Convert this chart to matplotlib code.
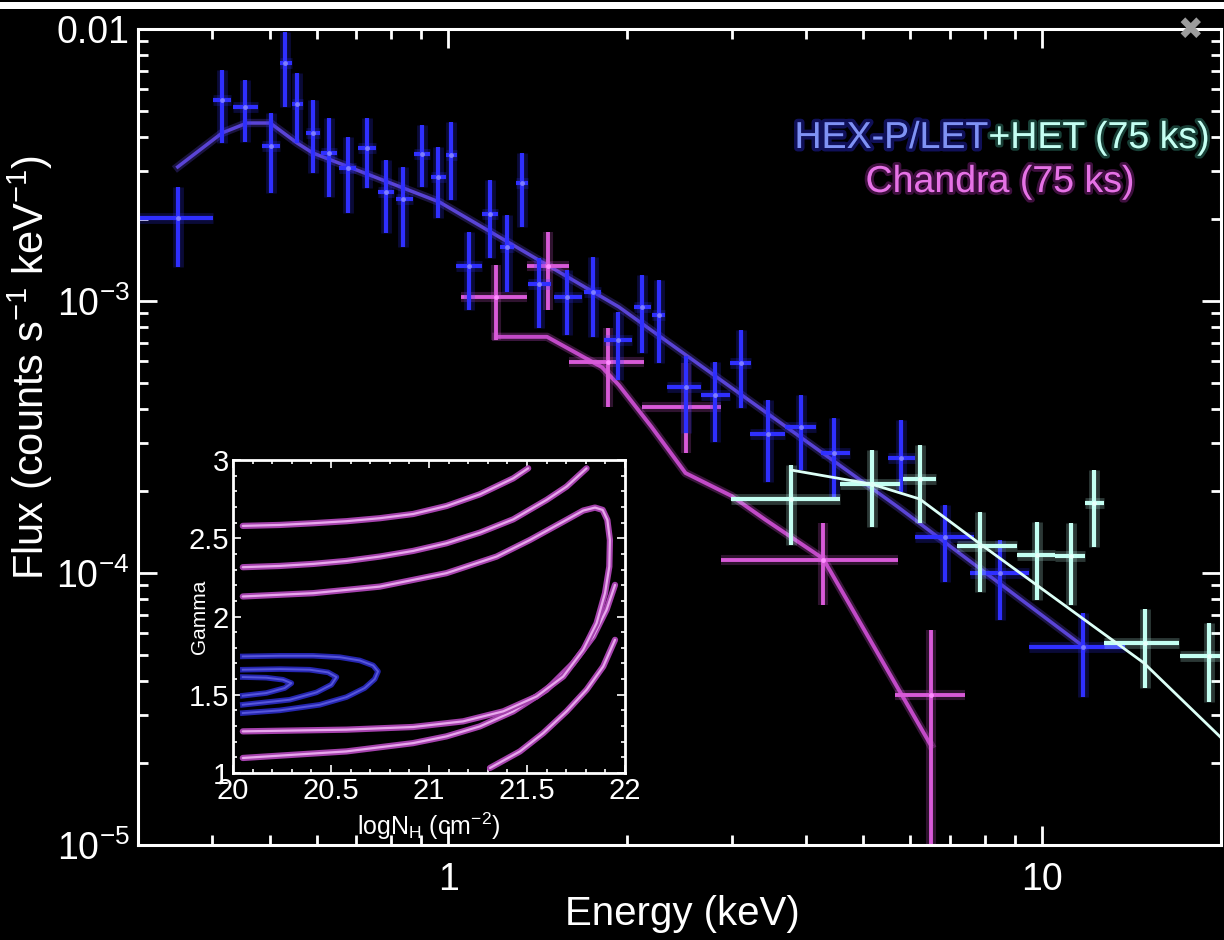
import numpy as np
import matplotlib
matplotlib.use("Agg")
import matplotlib.pyplot as plt
import matplotlib.patheffects as pe
from matplotlib.patches import Rectangle
from matplotlib.ticker import LogLocator, MultipleLocator, NullFormatter

plt.rcParams['font.family'] = ['Liberation Sans', 'DejaVu Sans']
plt.rcParams['mathtext.fontset'] = 'custom'
plt.rcParams['mathtext.rm'] = 'Liberation Sans'
plt.rcParams['mathtext.it'] = 'Liberation Sans:italic'
plt.rcParams['mathtext.bf'] = 'Liberation Sans:bold'

# ========== DATA ==========
# HEX-P / LET spectrum (blue): energy bin centre + edges (keV), flux + error range
let_e   = [0.351, 0.416, 0.455, 0.503, 0.531, 0.556, 0.591, 0.629, 0.677, 0.729, 0.784, 0.840,
           0.901, 0.962, 1.012, 1.084, 1.176, 1.256, 1.331, 1.421, 1.584, 1.751, 1.929, 2.116,
           2.259, 2.508, 2.817, 3.113, 3.456, 3.926, 4.461, 5.777, 6.847, 8.50, 11.72]
let_elo = [0.301, 0.402, 0.434, 0.486, 0.521, 0.545, 0.575, 0.610, 0.655, 0.705, 0.760, 0.815,
           0.875, 0.935, 0.990, 1.031, 1.140, 1.220, 1.300, 1.362, 1.506, 1.690, 1.827, 2.050,
           2.200, 2.331, 2.658, 2.985, 3.224, 3.691, 4.242, 5.495, 6.099, 7.572, 9.51]
let_ehi = [0.402, 0.431, 0.478, 0.521, 0.545, 0.570, 0.608, 0.650, 0.700, 0.755, 0.810, 0.870,
           0.930, 0.990, 1.035, 1.140, 1.210, 1.290, 1.360, 1.489, 1.678, 1.810, 2.036, 2.190,
           2.320, 2.658, 2.985, 3.236, 3.691, 4.161, 4.746, 6.099, 7.690, 9.51, 13.78]
let_f   = [2.02e-3, 5.48e-3, 5.17e-3, 3.72e-3, 7.50e-3, 5.30e-3, 4.15e-3, 3.50e-3, 3.08e-3,
           3.65e-3, 2.52e-3, 2.37e-3, 3.47e-3, 2.86e-3, 3.44e-3, 1.35e-3, 2.09e-3, 1.58e-3,
           2.72e-3, 1.15e-3, 1.03e-3, 1.08e-3, 7.19e-4, 9.51e-4, 8.89e-4, 4.83e-4, 4.51e-4,
           5.92e-4, 3.23e-4, 3.44e-4, 2.76e-4, 2.65e-4, 1.36e-4, 1.00e-4, 5.35e-5]
let_flo = [1.33e-3, 3.81e-3, 3.84e-3, 2.49e-3, 5.17e-3, 3.81e-3, 2.96e-3, 2.41e-3, 2.11e-3,
           2.60e-3, 1.78e-3, 1.58e-3, 2.62e-3, 2.02e-3, 2.35e-3, 9.27e-4, 1.44e-3, 1.08e-3,
           1.87e-3, 7.96e-4, 7.50e-4, 7.38e-4, 5.13e-4, 6.44e-4, 5.92e-4, 3.26e-4, 3.03e-4,
           4.04e-4, 2.16e-4, 2.39e-4, 1.90e-4, 1.99e-4, 9.27e-5, 6.71e-5, 3.50e-5]
let_fhi = [2.62e-3, 7.06e-3, 6.49e-3, 4.91e-3, 9.75e-3, 6.89e-3, 5.48e-3, 4.71e-3, 4.01e-3,
           4.71e-3, 3.30e-3, 3.11e-3, 4.44e-3, 3.68e-3, 4.55e-3, 1.79e-3, 2.79e-3, 2.07e-3,
           3.50e-3, 1.44e-3, 1.30e-3, 1.45e-3, 9.12e-4, 1.25e-3, 1.19e-3, 6.28e-4, 5.97e-4,
           7.82e-4, 4.32e-4, 4.51e-4, 3.72e-4, 3.65e-4, 1.78e-4, 1.32e-4, 7.13e-5]
let_model_e = [0.350, 0.416, 0.458, 0.501, 0.556, 0.591, 0.966, 1.936, 5.711, 11.76]
let_model_f = [3.11e-3, 4.15e-3, 4.51e-3, 4.51e-3, 3.81e-3, 3.50e-3, 2.31e-3, 9.51e-4, 1.75e-4, 5.35e-5]

# HEX-P / HET spectrum (cyan)
het_e   = [3.777, 5.166, 6.218, 7.87, 9.81, 11.19, 12.23, 14.89, 19.06]
het_elo = [2.997, 4.566, 5.824, 7.20, 9.08, 10.51, 11.81, 12.71, 17.04]
het_ehi = [4.566, 5.755, 6.614, 9.08, 10.51, 11.81, 12.71, 16.98, 20.4]
het_f   = [1.87e-4, 2.12e-4, 2.22e-4, 1.26e-4, 1.16e-4, 1.15e-4, 1.81e-4, 5.53e-5, 4.95e-5]
het_flo = [1.27e-4, 1.48e-4, 1.53e-4, 8.51e-5, 7.96e-5, 7.62e-5, 1.25e-4, 3.78e-5, 3.36e-5]
het_fhi = [2.49e-4, 2.83e-4, 2.96e-4, 1.68e-4, 1.54e-4, 1.53e-4, 2.39e-4, 7.38e-5, 6.55e-5]
het_model_e = [3.777, 5.166, 6.218, 7.78, 14.83, 19.97]
het_model_f = [2.39e-4, 2.12e-4, 1.87e-4, 1.30e-4, 4.67e-5, 2.49e-5]

# Chandra spectrum (magenta)
cxo_e   = [1.204, 1.472, 1.855, 2.508, 4.275, 6.49]
cxo_elo = [1.051, 1.357, 1.596, 2.116, 2.882, 5.646]
cxo_ehi = [1.357, 1.596, 2.133, 2.882, 5.711, 7.40]
cxo_f   = [1.03e-3, 1.35e-3, 5.97e-4, 4.07e-4, 1.12e-4, 3.56e-5]
cxo_flo = [7.19e-4, 9.27e-4, 4.07e-4, 2.76e-4, 7.62e-5, 1.0e-6]
cxo_fhi = [1.36e-3, 1.79e-3, 7.96e-4, 5.92e-4, 1.53e-4, 6.16e-5]
cxo_model_e = [1.204, 1.466, 1.813, 1.936, 2.199, 2.508, 2.997, 3.417, 4.275, 6.49]
cxo_model_f = [7.38e-4, 7.38e-4, 5.71e-4, 4.91e-4, 3.44e-4, 2.33e-4, 1.92e-4, 1.57e-4, 1.13e-4, 2.33e-5]

# inset: confidence contours, logNH vs Gamma (Chandra: magenta, HEX-P: blue)
cxo_c1a_x = [20.05, 20.238, 20.409, 20.579, 20.749, 20.919, 21.089, 21.26, 21.43, 21.506]
cxo_c1a_y = [2.579, 2.585, 2.596, 2.609, 2.628, 2.655, 2.706, 2.781, 2.883, 2.947]
cxo_c1b_x = [21.949, 21.889, 21.804, 21.702, 21.583, 21.464, 21.311]
cxo_c1b_y = [1.851, 1.681, 1.532, 1.394, 1.255, 1.138, 1.032]
cxo_c2a_x = [20.05, 20.238, 20.409, 20.579, 20.749, 20.919, 21.089, 21.26, 21.43, 21.6, 21.702, 21.804]
cxo_c2a_y = [2.315, 2.323, 2.336, 2.355, 2.383, 2.419, 2.468, 2.536, 2.621, 2.745, 2.83, 2.947]
cxo_c2b_x = [21.949, 21.906, 21.838, 21.736, 21.6, 21.43, 21.26, 21.089, 20.919, 20.579, 20.05]
cxo_c2b_y = [2.202, 2.043, 1.872, 1.702, 1.532, 1.394, 1.298, 1.234, 1.191, 1.138, 1.096]
cxo_c3_x = [20.05, 20.409, 20.749, 21.089, 21.345, 21.515, 21.685, 21.787, 21.847, 21.886,
            21.91, 21.923, 21.92, 21.898, 21.855, 21.787, 21.685, 21.549, 21.379, 21.174,
            20.919, 20.579, 20.05]
cxo_c3_y = [2.128, 2.149, 2.191, 2.277, 2.383, 2.489, 2.606, 2.677, 2.696, 2.681,
            2.617, 2.489, 2.319, 2.149, 1.957, 1.787, 1.617, 1.489, 1.394, 1.33,
            1.294, 1.277, 1.266]
hex_c1_x = [20.05, 20.238, 20.409, 20.545, 20.647, 20.715, 20.74, 20.723, 20.672, 20.579,
            20.443, 20.238, 20.05]
hex_c1_y = [1.745, 1.749, 1.749, 1.740, 1.719, 1.687, 1.649, 1.6, 1.543, 1.485,
            1.436, 1.4, 1.383]
hex_c2_x = [20.05, 20.238, 20.391, 20.485, 20.528, 20.502, 20.426, 20.289, 20.05]
hex_c2_y = [1.66, 1.664, 1.66, 1.643, 1.613, 1.564, 1.515, 1.468, 1.436]
hex_c3_x = [20.05, 20.17, 20.255, 20.298, 20.264, 20.17, 20.05]
hex_c3_y = [1.613, 1.609, 1.596, 1.574, 1.543, 1.511, 1.494]

y_ticks = [1e-5, 1e-4, 1e-3, 1e-2]
y_ticklabels = [r'$\mathregular{10^{-5}}$', r'$\mathregular{10^{-4}}$', r'$\mathregular{10^{-3}}$', '0.01']
x_ticks = [1, 10]
x_ticklabels = ['1', '10']
inset_xticks = [20, 20.5, 21, 21.5, 22]
inset_xticklabels = ['20', '20.5', '21', '21.5', '22']
inset_yticks = [1, 1.5, 2, 2.5, 3]
inset_yticklabels = ['1', '1.5', '2', '2.5', '3']

BLUE = '#2f2fff'
BLUE_MODEL = '#5a44d6'
PINK = '#d85ad8'
PINK_MODEL = '#c24ac8'
CYAN = '#c4fff2'

# ========== FIGURE ==========
fig = plt.figure(figsize=(12.24, 9.40), dpi=100, facecolor='black')
ax = fig.add_axes([0.1127, 0.1011, 0.8848, 0.8681], facecolor='black')
ax.set_xscale('log')
ax.set_yscale('log')


def draw_points(e, elo, ehi, f, flo, fhi, color, core, lw):
    e, elo, ehi, f, flo, fhi = map(np.asarray, (e, elo, ehi, f, flo, fhi))
    xerr = [e - elo, ehi - e]
    yerr = [f - flo, fhi - f]
    ax.errorbar(e, f, xerr=xerr, yerr=yerr, fmt='none', ecolor=color,
                elinewidth=lw * 2.6, alpha=0.22, capsize=0)
    ax.errorbar(e, f, xerr=xerr, yerr=yerr, fmt='none', ecolor=color,
                elinewidth=lw, capsize=0)
    ax.plot(e, f, 'o', ms=3.5, color=core, mec='none')


glow = lambda c, w, a=0.3: [pe.Stroke(linewidth=w, foreground=c, alpha=a), pe.Normal()]

# models
ax.plot(cxo_model_e, cxo_model_f, color=PINK_MODEL, lw=2.8, path_effects=glow(PINK_MODEL, 6))
ax.plot(let_model_e, let_model_f, color=BLUE_MODEL, lw=2.5, path_effects=glow(BLUE_MODEL, 6))

# data
draw_points(cxo_e, cxo_elo, cxo_ehi, cxo_f, cxo_flo, cxo_fhi, PINK, '#ff8cff', 2.8)
draw_points(let_e, let_elo, let_ehi, let_f, let_flo, let_fhi, BLUE, '#7d7dff', 3.0)
draw_points(het_e, het_elo, het_ehi, het_f, het_flo, het_fhi, CYAN, '#e8fffa', 3.0)
ax.plot(het_model_e, het_model_f, color='#dcfff6', lw=2.0)

ax.set_xlim(0.3, 20)
ax.set_ylim(1e-5, 1e-2)

# ticks / spines
for s in ax.spines.values():
    s.set_color('white')
    s.set_linewidth(2.2)
ax.set_yticks(y_ticks, labels=y_ticklabels)
ax.set_xticks(x_ticks, labels=x_ticklabels)
ax.xaxis.set_minor_locator(LogLocator(base=10, subs=np.arange(2, 10)))
ax.yaxis.set_minor_locator(LogLocator(base=10, subs=np.arange(2, 10)))
ax.xaxis.set_minor_formatter(NullFormatter())
ax.yaxis.set_minor_formatter(NullFormatter())
ax.tick_params(which='both', direction='in', top=True, right=True,
               colors='white', labelcolor='white', width=2)
ax.tick_params(which='major', length=14, labelsize=27)
ax.tick_params(which='minor', length=7)
ax.tick_params(axis='x', which='major', pad=12)
ax.tick_params(axis='y', which='major', pad=6)

fig.text(682 / 1224, 1 - 914 / 940, 'Energy (keV)', color='white', fontsize=29,
         ha='center', va='center')
fig.text(30 / 1224, 1 - 367 / 940,
         r'Flux (counts s$^{\mathregular{-1}}$ keV$^{\mathregular{-1}}$)',
         color='white', fontsize=30, rotation=90, ha='center', va='center')

# labels for the data sets
y_lab = 1 - 148 / 940
het_txt = fig.text(1210 / 1224, y_lab, '+HET (75 ks)', color=CYAN, fontsize=27,
                   ha='right', va='baseline', path_effects=glow('#60ffd8', 4, 0.25))
fig.canvas.draw()
bb = het_txt.get_window_extent()
fig.text(bb.x0 / fig.bbox.width, y_lab, 'HEX-P/LET', color='#7f92f4', fontsize=27,
         ha='right', va='baseline', path_effects=glow('#3030ff', 5, 0.35))
fig.text(1000 / 1224, 1 - 192 / 940, 'Chandra (75 ks)', color='#e672e6', fontsize=27,
         ha='center', va='baseline', path_effects=glow('#ff40ff', 4, 0.25))

# screenshot decorations
fig.add_artist(Rectangle((0, 1 - 9 / 940), 1, 7 / 940, transform=fig.transFigure,
                         facecolor='white', edgecolor='none'))
fig.text(1190 / 1224, 1 - 30 / 940, '\u2716', color='#9c9c9c', fontsize=22,
         ha='center', va='center', family='DejaVu Sans')

# ========== INSET ==========
ins = fig.add_axes([233 / 1224, 1 - 773 / 940, 392 / 1224, 313 / 940], facecolor='black')
for cx, cy in [(cxo_c1a_x, cxo_c1a_y), (cxo_c1b_x, cxo_c1b_y), (cxo_c2a_x, cxo_c2a_y),
               (cxo_c2b_x, cxo_c2b_y), (cxo_c3_x, cxo_c3_y)]:
    ins.plot(cx, cy, color='#a542ad', lw=4.5, solid_capstyle='round', solid_joinstyle='round')
    ins.plot(cx, cy, color='#e8a8ec', lw=1.6, solid_capstyle='round', solid_joinstyle='round')
for cx, cy in [(hex_c1_x, hex_c1_y), (hex_c2_x, hex_c2_y), (hex_c3_x, hex_c3_y)]:
    ins.plot(cx, cy, color='#2626b0', lw=4.0, solid_joinstyle='round')
    ins.plot(cx, cy, color='#5656dc', lw=1.4, solid_joinstyle='round')
ins.set_xlim(20, 22)
ins.set_ylim(1, 3)
ins.set_xticks(inset_xticks, labels=inset_xticklabels)
ins.set_yticks(inset_yticks, labels=inset_yticklabels)
ins.xaxis.set_minor_locator(MultipleLocator(0.1))
ins.yaxis.set_minor_locator(MultipleLocator(0.1))
ins.tick_params(which='both', direction='in', top=True, right=True,
                colors='white', labelcolor='white', width=1.2)
ins.tick_params(which='major', length=6, labelsize=21, pad=3)
ins.tick_params(which='minor', length=3)
for s in ins.spines.values():
    s.set_color('white')
    s.set_linewidth(2)
ins.text(0.5, -0.17, r'logN$_{\mathregular{H}}$ (cm$^{\mathregular{-2}}$)', color='white',
         fontsize=18, ha='center', va='center', transform=ins.transAxes)
ins.text(-0.085, 0.5, 'Gamma', color='white', fontsize=15, rotation=90,
         ha='center', va='center', transform=ins.transAxes)

fig.savefig('out.png', dpi=100, facecolor='black')
